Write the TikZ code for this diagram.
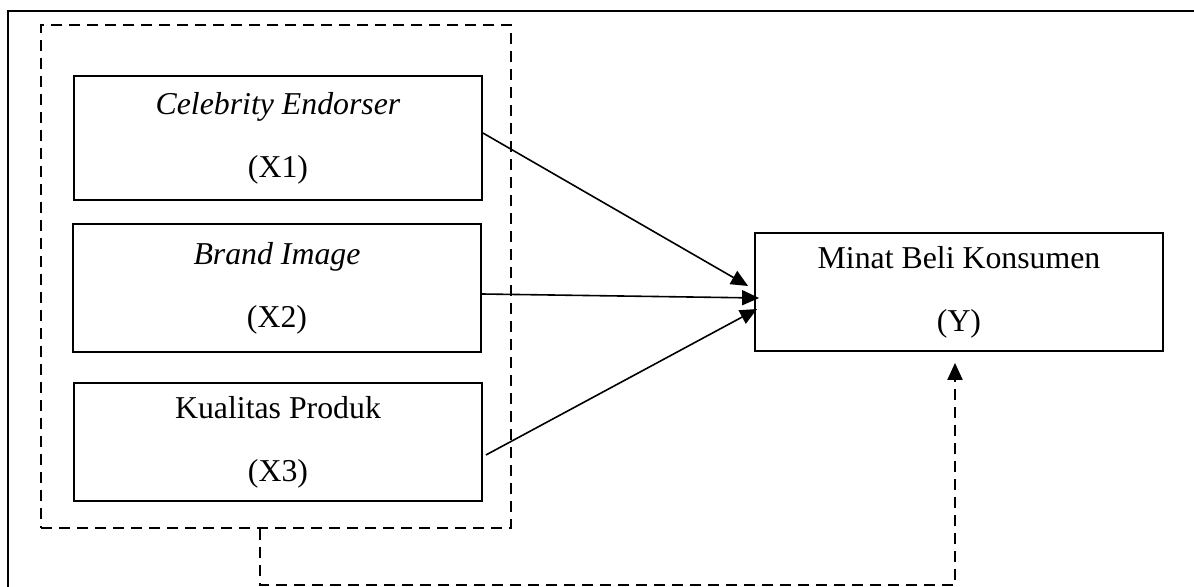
\documentclass[tikz,border=0pt]{standalone}
\usepackage{fontspec}
\setmainfont{Liberation Serif}
\usetikzlibrary{arrows.meta}

\begin{document}
\begin{tikzpicture}[x=0.5pt,y=0.5pt,yscale=-1,xscale=1,
    varbox/.style={draw, line width=0.9pt, minimum width=204pt, inner sep=0pt, align=center, font=\fontsize{15.9}{31.5}\selectfont},
    dashline/.style={line width=1pt, dash pattern=on 5.5pt off 3.5pt},
    arrowline/.style={line width=0.8pt, -{Triangle[length=8.5pt,width=7.5pt]}}]
    \useasboundingbox (0,0) rectangle (1194,587); %set diagram to the size of the reference
    
    %Shape: Frame
    \draw [line width=1pt]  (8,590) -- (8,11) -- (1196,11) ;
    %Shape: Dashed Rectangle
    \node [dashline, draw, minimum width=235pt, minimum height=251.5pt, inner sep=0pt] (grp) at (276,276.5) {};
    
    % Text Node
    \node [varbox, minimum height=62pt] (x1) at (278,138) {\textit{Celebrity Endorser}\\(X1)};
    % Text Node
    \node [varbox, minimum height=64pt] (x2) at (277,288) {\textit{Brand Image}\\(X2)};
    % Text Node
    \node [varbox, minimum height=59pt] (x3) at (278,442) {Kualitas Produk\\(X3)};
    % Text Node
    \node [varbox, minimum height=59pt] (y) at (959,292) {Minat Beli Konsumen\\(Y)};
    
    %Straight Lines (yshift runs downwards here, yscale=-1)
    \draw [arrowline]  ([yshift=-2.5pt]x1.east) -- ([xshift=-3pt,yshift=-3pt]y.west) ;
    %Straight Lines
    \draw [arrowline]  ([yshift=3pt]x2.east) -- ([xshift=2.5pt,yshift=3pt]y.west) ;
    %Straight Lines
    \draw [arrowline]  ([xshift=1.5pt,yshift=6.5pt]x3.east) -- ([xshift=1.5pt,yshift=8.5pt]y.west) ;
    %Dashed Lines
    \draw [dashline, -{Triangle[length=8.5pt,width=7.5pt]}]  ([xshift=-8pt]grp.south) -- ++(0,56) -| ([xshift=-2pt,yshift=5.5pt]y.south) ;
    
    \end{tikzpicture}
\end{document}
